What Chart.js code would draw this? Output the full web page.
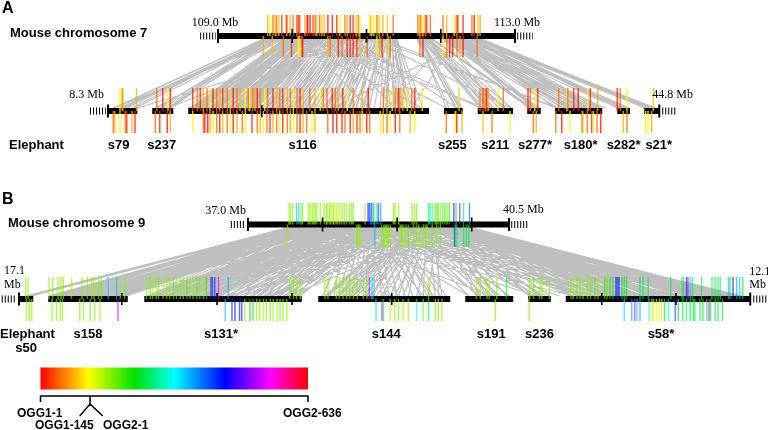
<!DOCTYPE html>
<html><head><meta charset="utf-8">
<script src="https://cdn.jsdelivr.net/npm/chart.js@4/dist/chart.umd.min.js"></script>
<style>
html,body{margin:0;padding:0;background:#fff;}
#wrap{position:relative;width:768px;height:430px;overflow:hidden;background:#fff;}
#c{position:absolute;left:0;top:0;}
.t{position:absolute;white-space:nowrap;line-height:1;color:#000;}
.b{font-family:"Liberation Sans",Arial,sans-serif;font-weight:bold;}
.s{font-family:"Liberation Serif","Times New Roman",serif;}
</style></head><body>
<div id="wrap"><canvas id="c" width="768" height="430"></canvas></div>
<script>
// ================= DATA =================
// Panel A – mouse chromosome 7 (Mb); each tick = [position, OGG index]
const chr7Range = [109.0, 113.0];
const chr7MbTicks = [110, 111, 112];
const mouse7Up = [[109.67,100],[109.70,140],[109.74,60],[109.77,100],[109.79,60],[109.82,110],[109.86,30],[109.92,20],[109.93,60],[109.97,100],[110.01,60],[110.06,55],[110.08,10],[110.10,30],[110.17,95],[110.20,10],[110.21,15],[110.24,5],[110.28,35],[110.31,60],[110.33,110],[110.37,55],[110.40,115],[110.43,105],[110.48,10],[110.54,12],[110.60,25],[110.64,135],[110.71,60],[110.74,95],[110.78,8],[110.82,15],[110.86,110],[110.89,60],[110.91,140],[111.05,100],[111.07,142],[111.10,135],[111.14,60],[111.17,110],[111.22,95],[111.28,110],[111.36,60],[111.69,65],[111.71,95],[111.73,60],[111.76,138],[111.79,60],[111.81,12],[111.86,55],[112.03,60],[112.08,95],[112.18,138],[112.21,60],[112.23,12],[112.30,20],[112.42,60],[112.45,10],[112.50,110],[112.53,90]];
const mouse7Down = [[109.61,95],[109.73,100],[109.88,60],[109.99,20],[110.08,140],[110.10,130],[110.13,60],[110.14,12],[110.48,95],[110.51,60],[110.62,10],[110.67,60],[110.74,15],[110.78,20],[110.82,8],[110.87,12],[110.91,100],[111.01,60],[111.14,140],[111.18,95],[111.21,10],[111.29,120],[111.32,60],[111.72,60],[111.76,10],[112.03,138],[112.08,60],[112.12,15],[112.16,10],[112.22,60],[112.26,95],[112.30,10],[112.49,60]];

// Panel A – elephant scaffolds (Mb along the concatenated scaffolds)
const eleARangeLabels = ['8.3 Mb', '44.8 Mb'];
const scafNamesA = ['s79','s237','s116','s255','s211','s277*','s180*','s282*','s21*'];
const scafStartA = [0.00, 0.59, 1.07, 4.48, 4.93, 5.59, 5.96, 6.79, 7.15];
const scafEndA   = [0.39, 0.87, 4.28, 4.73, 5.40, 5.77, 6.59, 6.96, 7.35];
const eleAMbTicks = [2.05];
const eleAUp = [[0.16,140],[0.19,60],[0.20,100],[0.38,95],[0.65,60],[0.73,10],[0.80,140],[0.83,15],
[1.13,20],[1.19,60],[1.23,10],[1.27,100],[1.32,60],[1.36,140],[1.40,15],[1.45,60],[1.49,95],[1.53,30],[1.59,60],[1.63,120],[1.67,12],[1.72,60],[1.76,100],[1.83,140],[1.87,60],[1.89,135],[1.93,60],[1.96,95],[1.99,10],[2.03,60],[2.09,140],[2.13,60],[2.20,15],[2.25,100],[2.29,60],[2.33,12],[2.39,95],[2.43,60],[2.47,140],[2.52,60],[2.56,10],[2.60,100],[2.69,60],[2.76,95],[2.83,140],[2.87,60],[2.92,55],[2.99,10],[3.03,60],[3.07,100],[3.13,15],[3.19,140],[3.27,60],[3.39,95],[3.47,10],[3.67,60],[3.72,100],[3.79,140],[3.83,60],[3.87,12],[3.89,60],[3.93,95],[3.99,140],[4.05,60],[4.09,10],[4.19,138],
[4.68,110],[4.96,60],[5.00,30],[5.03,60],[5.05,12],[5.07,95],[5.20,140],[5.27,60],[5.60,12],[5.63,60],[5.69,140],[5.73,20],
[6.01,60],[6.12,140],[6.13,60],[6.21,15],[6.27,12],[6.40,140],[6.43,20],[6.53,95],[6.79,12],[6.83,60],[6.92,140],[7.27,110]];
const eleADown = [[0.07,60],[0.09,100],[0.16,140],[0.23,60],[0.25,20],[0.32,95],[0.36,15],[0.63,60],[0.69,20],[0.79,12],[0.83,100],
[1.13,140],[1.27,60],[1.29,10],[1.33,5],[1.36,95],[1.40,140],[1.45,60],[1.49,15],[1.53,100],[1.59,60],[1.63,140],[1.67,10],[1.72,95],[1.79,60],[1.83,140],[1.92,20],[1.99,60],[2.03,100],[2.07,140],[2.12,60],[2.16,15],[2.20,95],[2.25,60],[2.29,140],[2.33,12],[2.39,60],[2.43,100],[2.47,140],[2.52,60],[2.56,10],[2.60,95],[2.65,60],[2.72,140],[2.76,100],[2.93,60],[3.00,12],[3.05,20],[3.12,15],[3.16,60],[3.23,10],[3.27,95],[3.32,20],[3.36,60],[3.39,140],[3.45,10],[3.49,60],[3.63,140],[3.67,100],[3.72,60],[3.76,140],[3.83,12],[3.89,60],[4.03,95],[4.09,140],
[4.51,60],[4.63,140],[4.65,12],[4.72,100],[5.00,110],[5.12,60],[5.36,140],[5.67,60],[5.71,100],
[5.97,60],[6.05,12],[6.16,140],[6.32,60],[6.33,95],[6.39,60],[6.45,20],[6.47,140],[6.52,60],[6.57,12],[6.87,100],[6.92,60],[7.17,140],[7.20,138],[7.25,95]];
// orthologue links: [mouse Mb, elephant Mb]
const linksA = [[109.61,0.07],[109.67,0.16],[109.70,0.19],[109.73,0.23],[109.74,0.36],[109.77,0.65],[109.79,0.73],[109.82,0.80],[109.86,0.09],[109.88,0.63],
[109.62,0.09],[109.64,0.25],[109.66,0.32],[109.69,0.69],[109.71,0.79],[109.75,0.83],
[109.92,1.13],[109.93,1.19],[109.97,1.27],[109.99,1.23],[110.01,1.32],[110.06,1.36],[110.08,1.45],[110.10,1.40],[110.13,1.53],[110.14,1.49],[110.17,1.59],[110.20,1.63],[110.21,1.72],[110.24,1.67],[110.28,1.76],[110.31,1.83],[110.33,1.89],[110.37,1.93],[110.40,1.99],[110.43,2.03],[110.48,2.09],[110.51,2.13],[110.54,2.20],[110.60,2.25],[110.62,2.33],[110.64,2.29],[110.67,2.39],[110.71,2.43],[110.74,2.52],[110.78,2.47],[110.82,2.56],[110.86,2.60],[110.87,2.69],[110.89,2.76],[110.91,2.83],[111.01,2.92],[111.05,2.87],[111.07,2.99],[111.10,3.03],[111.14,3.13],[111.17,3.07],[111.18,3.19],[111.21,3.27],[111.22,3.39],[111.28,3.47],[111.29,3.67],[111.32,3.72],[111.36,3.79],
[109.92,1.29],[109.95,1.33],[110.00,1.36],[110.03,1.40],[110.05,1.45],[110.09,1.49],[110.11,1.53],[110.15,1.63],[110.18,1.67],[110.22,1.79],[110.26,1.83],[110.30,1.87],[110.35,1.92],[110.38,1.96],[110.42,2.07],[110.45,2.12],[110.50,2.16],[110.56,2.29],[110.58,2.39],[110.66,2.47],[110.69,2.56],[110.72,2.65],[110.76,2.72],[110.80,2.76],[110.84,2.93],[110.88,3.00],[110.93,3.05],[110.96,3.12],[110.99,3.16],[111.03,3.23],[111.08,3.32],[111.12,3.36],[111.16,3.45],[111.20,3.49],[111.24,3.63],[111.26,3.76],[111.30,3.83],[111.34,3.87],[111.38,3.93],[111.40,4.03],
[109.89,1.10],[109.91,1.16],[109.94,1.21],[109.96,1.25],[110.02,1.38],[110.04,1.43],[110.07,1.47],[110.12,1.56],[110.16,1.61],[110.19,1.70],[110.23,1.74],[110.27,1.80],[110.29,1.85],[110.32,1.91],[110.36,1.98],[110.39,2.05],[110.41,2.11],[110.44,2.18],[110.47,2.23],[110.52,2.27],[110.55,2.35],[110.59,2.41],[110.63,2.45],[110.68,2.50],[110.73,2.58],[110.77,2.63],[110.81,2.70],[110.85,2.80],[110.90,2.90],[110.95,2.96],[111.00,3.01],[111.04,3.09],[111.09,3.15],[111.13,3.21],[111.19,3.30],[111.23,3.41],[111.27,3.55],[111.31,3.70],[111.35,3.81],[111.37,3.90],[111.39,4.00],[111.40,4.12],[111.41,4.20],
[110.48,3.83],[110.91,3.89],[111.14,3.93],[111.36,3.99],[111.28,4.09],[109.97,4.19],[110.74,1.07],[111.01,0.39],[110.30,4.51],[110.60,4.96],[111.05,5.36],[111.20,5.97],[110.10,3.49],[112.20,4.05],[109.95,2.20],[110.70,0.80],
[111.69,4.51],[111.71,4.63],[111.72,4.68],[111.73,4.72],[111.76,4.96],[111.79,5.00],[111.81,5.05],[111.86,5.12],[112.03,5.20],[112.08,5.36],[112.12,5.60],[112.16,5.67],[112.18,5.73],[112.21,5.97],[112.22,6.05],[112.23,6.13],[112.26,6.21],[112.30,6.32],[112.42,6.40],[112.45,6.52],[112.49,6.79],[112.50,6.87],[112.53,7.17],[112.53,7.27],
[111.70,4.65],[111.74,5.00],[111.78,5.07],[111.83,5.27],[111.88,5.63],[112.05,5.69],[112.10,5.71],[112.14,6.12],[112.19,6.16],[112.25,6.27],[112.28,6.33],[112.33,6.39],[112.40,6.43],[112.44,6.47],[112.47,6.57],[112.51,6.83],[112.52,6.92],[112.54,7.20],[112.55,7.25],
[111.68,4.55],[111.70,4.70],[111.72,4.98],[111.74,5.10],[111.77,5.15],[111.80,5.22],[111.82,5.30],[111.84,5.38],[111.87,5.62],[111.89,5.66],[112.02,5.75],[112.04,6.00],[112.07,6.08],[112.09,6.19],[112.11,6.24],[112.13,6.30],[112.15,6.36],[112.17,6.42],[112.20,6.50],[112.24,6.55],[112.27,6.62],[112.31,6.80],[112.35,6.90],[112.41,6.95],[112.46,7.16],[112.48,7.22],[112.52,7.30],
[110.20,5.03],[110.82,4.65],[111.10,6.01],[112.08,3.72],[112.45,2.99]];

// Panel B – mouse chromosome 9 (Mb)
const chr9Range = [37.0, 40.5];
const chr9MbTicks = [38, 39, 40];
const mouse9Up = [[37.55,190],[37.57,200],[37.60,195],[37.65,430],[37.68,410],[37.71,200],[37.73,205],[37.81,195],[37.83,200],[37.86,210],[37.88,190],[37.90,200],[37.92,215],[37.97,200],[38.02,210],[38.05,195],[38.06,200],[38.09,205],[38.11,190],[38.14,200],[38.15,180],[38.18,175],[38.20,175],[38.23,180],[38.26,200],[38.29,210],[38.32,195],[38.36,220],[38.39,200],[38.41,205],[38.57,200],[38.61,540],[38.63,560],[38.65,450],[38.66,470],[38.68,430],[38.70,200],[38.73,420],[38.75,500],[38.78,440],[38.95,200],[38.97,210],[39.02,190],[39.20,210],[39.23,200],[39.26,220],[39.42,330],[39.44,340],[39.47,360],[39.51,230],[39.53,210],[39.55,240],[39.58,200],[39.61,230],[39.64,250],[39.67,210],[39.70,260],[39.76,560],[39.79,300],[39.84,620],[39.89,300],[39.97,480]];
const mouse9Down = [[37.53,200],[38.46,210],[38.48,195],[38.50,200],[38.70,430],[38.79,200],[38.82,210],[38.84,190],[38.86,200],[38.88,205],[38.91,195],[39.04,200],[39.06,210],[39.08,190],[39.12,200],[39.15,215],[39.22,200],[39.26,210],[39.29,195],[39.35,200],[39.38,210],[39.40,190],[39.47,205],[39.53,200],[39.58,210],[39.77,540],[39.78,300],[39.80,310],[39.89,320],[39.93,300],[39.96,310]];

// Panel B – elephant scaffolds
const eleBRangeLabels = ['17.1', '12.1'];
const scafNamesB = ['s50','s158','s131*','s144','s191','s236','s58*'];
const scafStartB = [0.00, 0.39, 1.67, 3.99, 5.95, 6.79, 7.29];
const scafEndB   = [0.19, 1.45, 3.77, 5.75, 6.59, 7.09, 9.75];
const eleBMbTicks = [1.37, 2.64, 3.64, 4.97, 7.77, 8.76];
const eleBUp = [[0.09,200],[0.12,195],
[0.40,200],[0.45,210],[0.52,195],[0.56,200],[0.59,205],[0.70,190],[0.84,200],[0.91,210],[0.97,200],[1.00,195],[1.06,205],[1.10,200],[1.19,420],[1.30,430],[1.35,200],[1.41,210],
[1.70,200],[1.75,210],[1.78,195],[1.83,200],[1.86,205],[1.92,190],[1.97,200],[2.01,210],[2.06,230],[2.10,200],[2.15,215],[2.19,200],[2.24,240],[2.28,210],[2.32,200],[2.37,230],[2.41,220],[2.46,200],[2.50,250],[2.56,520],[2.58,530],[2.61,510],[2.66,650],[2.79,440],[3.61,200],[3.66,210],[3.70,195],[3.75,200],
[4.08,200],[4.12,210],[4.23,195],[4.27,200],[4.32,210],[4.37,200],[4.41,205],[4.46,190],[4.51,200],[4.59,210],[4.64,200],[4.67,650],[4.70,400],[4.72,410],[5.46,200],
[6.10,200],[6.15,210],[6.24,195],[6.27,200],[6.37,205],[6.50,300],
[6.81,200],[6.86,210],[6.94,195],[6.97,200],[7.07,205],
[7.36,200],[7.39,195],[7.44,210],[7.48,200],[7.52,190],[7.58,200],[7.62,210],[7.68,230],[7.72,200],[7.81,250],[7.84,230],[7.88,260],[7.92,280],[7.96,540],[7.98,520],[8.00,550],[8.04,290],[8.07,300],[8.10,270],[8.28,300],[8.32,320],[8.39,310],[8.69,300],[8.84,320],[8.86,300],[8.90,530],[8.92,650],[8.95,420],[8.98,300],[9.10,310],[9.24,320],[9.28,300],[9.32,310],[9.35,330],[9.46,430],[9.48,300],[9.52,540],[9.57,440],[9.61,430],[9.65,300]];
const eleBDown = [[0.10,200],[0.14,210],[0.17,195],
[0.44,200],[0.50,210],[0.55,195],[0.58,200],[0.81,205],[0.86,200],[0.95,210],[1.01,200],[1.08,195],[1.32,650],
[2.75,420],[2.84,520],[2.88,540],[2.94,530],[2.97,550],[3.01,200],[3.08,280],[3.12,260],[3.17,200],[3.21,210],[3.26,195],[3.30,200],[3.35,210],[3.39,200],[3.44,195],[3.48,205],[3.52,200],[3.57,210],
[4.76,410],[4.84,640],[4.86,300],[4.95,180],[5.01,200],[5.06,210],[5.12,195],[5.19,200],[5.30,370],[5.39,200],[5.46,300],[5.55,200],[5.59,210],[5.64,200],
[6.35,200],[6.80,200],
[8.07,410],[8.17,440],[8.21,650],[8.24,420],[8.28,440],[8.40,380],[8.44,160],[8.46,170],[8.50,165],[8.54,160],[8.57,170],[8.61,300],[8.66,370],[8.75,500],[8.79,290],[8.85,300],[8.90,310],[8.95,290],[8.99,300],[9.01,320],[9.08,300],[9.12,290],[9.17,310],[9.20,650],[9.22,300],[9.28,310],[9.32,300],[9.38,290]];
const linksB = [[37.53,0.09],[37.55,0.12],[37.57,0.40],[37.60,0.45],[37.65,0.52],[37.68,0.56],[37.71,0.59],[37.73,0.70],[37.81,0.84],[37.83,0.91],[37.86,0.97],[37.88,1.00],[37.90,1.06],[37.92,1.10],[37.97,1.19],[38.02,1.30],[38.05,1.35],[38.06,1.41],
[37.54,0.44],[37.58,0.50],[37.62,0.55],[37.66,0.58],[37.75,0.81],[37.78,0.86],[37.85,0.95],[37.89,1.01],[37.94,1.08],[37.99,1.32],[37.56,0.10],[37.59,0.14],[37.61,0.17],
[37.55,0.48],[37.58,0.62],[37.63,0.66],[37.67,0.74],[37.72,0.78],[37.76,0.89],[37.79,0.93],[37.82,1.04],[37.87,1.13],[37.91,1.16],[37.95,1.23],[37.98,1.27],[38.00,1.38],[38.03,1.43],
[38.09,1.70],[38.11,1.75],[38.14,1.78],[38.15,1.83],[38.18,1.86],[38.20,1.92],[38.23,1.97],[38.26,2.01],[38.29,2.06],[38.32,2.10],[38.36,2.15],[38.39,2.19],[38.41,2.24],[38.46,2.28],[38.48,2.32],[38.50,2.37],[38.57,2.41],[38.61,2.46],[38.63,2.50],[38.65,2.56],[38.66,2.58],[38.68,2.61],[38.70,2.66],[38.73,2.75],[38.75,2.84],[38.78,2.88],[38.79,2.94],[38.82,3.01],[38.84,3.08],[38.86,3.17],[38.88,3.26],[38.91,3.35],[38.95,3.44],[38.97,3.52],[39.02,3.61],[39.04,3.70],
[38.10,2.15],[38.13,2.28],[38.17,2.41],[38.22,2.50],[38.25,2.56],[38.28,2.58],[38.31,2.61],[38.34,2.66],[38.38,2.79],[38.43,3.12],[38.47,3.17],[38.52,3.21],[38.55,3.30],[38.59,3.39],[38.62,3.44],[38.67,3.48],[38.72,3.57],[38.76,3.66],[38.80,3.75],[38.04,1.97],[38.08,2.01],[38.12,2.06],
[37.62,1.72],[37.66,1.80],[37.70,1.88],[37.74,1.95],[37.77,2.03],[37.80,2.12],[37.84,2.20],[37.87,2.26],[37.91,2.34],[37.93,2.44],[37.96,2.53],[37.98,2.63],[38.01,2.70],[38.03,2.80],[38.07,2.90],[38.16,3.00],[38.19,3.10],[38.21,3.20],[38.24,3.28],[38.27,3.37],[38.30,3.46],[38.33,3.55],[38.35,3.63],[38.37,3.72],
[39.06,4.08],[39.08,4.12],[39.12,4.23],[39.15,4.27],[39.20,4.32],[39.22,4.37],[39.23,4.41],[39.26,4.46],[39.29,4.51],[39.35,4.59],[39.38,4.67],[39.40,4.76],[39.42,4.86],[39.44,5.01],[39.47,5.12],[39.51,5.30],[39.53,5.46],[39.55,5.59],
[39.00,4.12],[39.05,4.37],[39.10,4.64],[39.14,4.70],[39.18,4.72],[39.24,4.84],[39.28,4.95],[39.32,5.06],[39.36,5.19],[39.39,5.39],[39.43,5.55],[39.46,5.64],[38.98,4.46],[38.93,4.27],
[38.40,4.05],[38.44,4.15],[38.49,4.25],[38.53,4.35],[38.56,4.44],[38.60,4.53],[38.64,4.62],[38.69,4.74],[38.74,4.83],[38.77,4.93],[38.81,5.04],[38.83,5.15],[38.87,5.25],[38.89,5.35],[38.92,5.45],[38.94,5.52],[38.96,5.62],[38.99,5.70],
[39.58,6.10],[39.61,6.24],[39.64,6.37],[39.67,6.50],[39.70,6.81],[39.76,6.94],[39.77,7.07],[39.57,6.15],[39.60,6.27],[39.63,6.35],[39.66,6.86],[39.69,6.97],[39.72,6.80],
[39.03,6.00],[39.09,6.12],[39.13,6.22],[39.17,6.32],[39.21,6.42],[39.25,6.54],[39.30,6.84],[39.33,6.92],[39.37,7.02],
[39.78,7.36],[39.79,7.44],[39.80,7.52],[39.84,7.62],[39.89,7.72],[39.93,7.84],[39.96,7.96],[39.97,8.07],[39.99,8.28],
[39.75,7.39],[39.74,7.48],[39.73,7.58],[39.81,7.68],[39.82,7.81],[39.83,7.88],[39.85,7.92],[39.86,7.98],[39.87,8.00],[39.88,8.04],[39.90,8.10],[39.91,8.17],[39.92,8.21],[39.94,8.24],[39.95,8.32],[39.98,8.40],[39.62,8.46],[39.65,8.54],[39.68,8.66],[39.71,8.75],[39.72,8.84],[39.45,8.92],[39.48,8.98],[39.50,9.08],[39.52,9.12],[39.56,9.17],[39.59,9.22],[39.63,9.32],[39.74,9.38],[39.78,9.57],[39.82,9.65],[39.86,9.48],[39.90,9.35],
[39.41,7.34],[39.46,7.46],[39.49,7.56],[39.54,7.66],[39.57,7.76],[39.60,7.86],[39.62,7.94],[39.65,8.05],[39.68,8.14],[39.71,8.23],[39.74,8.35],[39.77,8.48],[39.80,8.58],[39.83,8.70],[39.85,8.82],[39.88,8.94],[39.91,9.06],[39.94,9.18],[39.97,9.30],[39.98,9.42],[39.99,9.60],[38.45,7.50],[38.65,7.90],[38.85,8.30],[39.05,8.60],[39.25,9.00],[39.45,9.40],
[38.02,8.10],[38.20,7.68],[38.29,8.39],[38.41,7.88],[38.57,8.86],[38.70,9.10],[38.95,8.69],[39.02,9.28],[39.08,7.81],[39.20,9.35],[39.26,8.95],[39.35,9.48],[39.44,8.50],[39.51,9.57],[39.55,9.65],[39.61,8.61],[39.67,9.01],[39.70,9.20],[39.84,9.61],[39.89,9.24],[39.93,8.90],[39.96,8.44],[39.99,9.52],
[39.26,1.30],[39.58,2.06],[39.80,3.30],[39.89,2.79],[38.82,0.86],[38.50,1.08],[39.12,3.39],[39.47,4.08],[38.11,4.64],[38.36,5.06],[38.63,5.39],[38.86,6.15],[39.04,6.86],[37.60,7.40],[37.73,8.00],[38.15,9.30],[37.88,6.30],[38.48,7.58],[38.75,8.17],[39.15,7.48],[39.29,8.32],[39.40,8.79],[39.53,8.99],[39.64,9.46],
[38.30,4.20],[38.55,4.90],[38.85,5.50],[38.40,6.00],[38.90,1.80],[39.10,2.40],[39.40,3.00],[39.70,3.60],[37.95,3.20],[37.70,2.20],[38.00,6.90],[38.60,7.20]];

// Colour key: OGG indices (OGG1-1 .. OGG1-145, then OGG2-1 .. OGG2-636)
const oggTotal = 781;
const oggSplit = 145.5;
const oggLabels = ['OGG1-1', 'OGG1-145', 'OGG2-1', 'OGG2-636'];

// ================= STYLE / LAYOUT =================
const W = 768, H = 430;
const oggStops = [[0,[255,0,0]],[0.09,[255,128,0]],[0.18,[255,255,0]],[0.35,[0,225,0]],[0.50,[0,255,255]],[0.69,[0,0,255]],[0.86,[255,0,255]],[1,[255,0,0]]];
const ANCHOR = {
  xM7: [109, 218, 113, 515],
  xEA: [0, 108, 1, 183],
  xM9: [37, 248, 40.5, 509],
  xEB: [0, 19, 1, 94],
  xOgg:[1, 40.5, 781, 308]
};
const TRACK = {
  m7: {axis:'xM7', y:36,   up:21, down:21},
  eA: {axis:'xEA', y:111,  up:23, down:22},
  m9: {axis:'xM9', y:224.5,up:21.5, down:22.5},
  eB: {axis:'xEB', y:299,  up:22, down:22}
};
const LABEL_SHIFT_A = [-4, -1, -6, -1, 0, 1, 2, 0, 7];
const LABEL_SHIFT_B = [0, 0, -2, 2, 2, 0, 3];
const KEY_Y = 378.5, KEY_H = 22, BRACKET_Y = 396;
const LINK_COLOR = '#bfbfbf';

function rangeFor(a){ const [v0,p0,v1,p1]=a; const k=(v1-v0)/(p1-p0); return {min:v0-p0*k, max:v0+(W-p0)*k}; }
function mix(c0,c1,t){ return c0.map((v,i)=>Math.round(v+(c1[i]-v)*t)); }
function oggRGB(idx){
  const f=(idx-1)/(oggTotal-1);
  for(let i=1;i<oggStops.length;i++){
    if(f<=oggStops[i][0]){ const a=oggStops[i-1], b=oggStops[i]; return mix(a[1],b[1],(f-a[0])/(b[0]-a[0])); }
  }
  return oggStops[oggStops.length-1][1];
}
function oggColor(idx){ const c=oggRGB(idx); return `rgba(${c[0]},${c[1]},${c[2]},${idx>145?0.62:0.78})`; }

function tickDs(list, tr, up){
  const len = up ? tr.up : tr.down;
  const mid = up ? tr.y - len/2 : tr.y + len/2;
  return {type:'scatter', xAxisID:tr.axis, yAxisID:'y',
    data:list.map(t=>({x:t[0], y:mid})),
    pointStyle:'line', pointRotation:90, pointRadius:len/2, pointHoverRadius:len/2,
    pointBorderWidth:1.5, pointHoverBorderWidth:1.5,
    pointBorderColor:list.map(t=>oggColor(t[1])), pointBackgroundColor:'rgba(0,0,0,0)'};
}
function blackTicks(vals, tr, half, width){
  return {type:'scatter', xAxisID:tr.axis, yAxisID:'y',
    data:vals.map(v=>({x:v, y:tr.y})),
    pointStyle:'line', pointRotation:90, pointRadius:half, pointHoverRadius:half,
    pointBorderWidth:width, pointBorderColor:'#000', pointBackgroundColor:'#000'};
}
function segDs(axis, segs, y, width, dash){
  const data=[];
  segs.forEach(([a,b])=>{ data.push({x:a,y:y},{x:b,y:y},{x:b,y:null}); });
  return {type:'line', xAxisID:axis, yAxisID:'y', data, borderColor:'#000', borderWidth:width,
    borderDash:dash||[], borderCapStyle:'butt', pointRadius:0, pointHoverRadius:0, fill:false, spanGaps:false, tension:0};
}

const datasets = [];
datasets.push(blackTicks(chr7Range, TRACK.m7, 7, 2));
datasets.push(blackTicks(chr7MbTicks, TRACK.m7, 7, 1.6));
datasets.push(blackTicks([scafStartA[0], scafEndA[scafEndA.length-1]], TRACK.eA, 6.5, 2));
datasets.push(blackTicks(eleAMbTicks, TRACK.eA, 6, 1.6));
datasets.push(blackTicks(chr9Range, TRACK.m9, 6.5, 2));
datasets.push(blackTicks(chr9MbTicks, TRACK.m9, 7, 1.6));
datasets.push(blackTicks([scafStartB[0], scafEndB[scafEndB.length-1]], TRACK.eB, 6.5, 2));
datasets.push(blackTicks(eleBMbTicks, TRACK.eB, 6, 1.6));
datasets.push(tickDs(mouse7Up, TRACK.m7, true));
datasets.push(tickDs(mouse7Down, TRACK.m7, false));
datasets.push(tickDs(eleAUp, TRACK.eA, true));
datasets.push(tickDs(eleADown, TRACK.eA, false));
datasets.push(tickDs(mouse9Up, TRACK.m9, true));
datasets.push(tickDs(mouse9Down, TRACK.m9, false));
datasets.push(tickDs(eleBUp, TRACK.eB, true));
datasets.push(tickDs(eleBDown, TRACK.eB, false));
datasets.push(segDs('xM7', [chr7Range], TRACK.m7.y, 6));
datasets.push(segDs('xEA', scafStartA.map((s,i)=>[s, scafEndA[i]]), TRACK.eA.y, 6));
datasets.push(segDs('xM9', [chr9Range], TRACK.m9.y, 6));
datasets.push(segDs('xEB', scafStartB.map((s,i)=>[s, scafEndB[i]]), TRACK.eB.y, 6));
datasets.push(segDs('xM7', [[chr7Range[0]-0.24, chr7Range[0]-0.03],[chr7Range[1]+0.03, chr7Range[1]+0.24]], TRACK.m7.y, 7, [1,2]));
datasets.push(segDs('xEA', [[scafStartA[0]-0.24, scafStartA[0]-0.03],[scafEndA[8]+0.04, scafEndA[8]+0.22]], TRACK.eA.y, 7, [1,2]));
datasets.push(segDs('xM9', [[chr9Range[0]-0.23, chr9Range[0]-0.03],[chr9Range[1]+0.03, chr9Range[1]+0.25]], TRACK.m9.y, 7, [1,2]));
datasets.push(segDs('xEB', [[scafStartB[0]-0.23, scafStartB[0]-0.03],[scafEndB[6]+0.04, scafEndB[6]+0.23]], TRACK.eB.y, 7, [1,2]));
datasets.push({type:'line', xAxisID:'xOgg', yAxisID:'y', data:[{x:1,y:KEY_Y},{x:oggTotal,y:KEY_Y}],
  borderWidth:KEY_H, borderCapStyle:'butt', pointRadius:0, pointHoverRadius:0, fill:false,
  borderColor:(ctx)=>{ const ch=ctx.chart, sc=ch.scales.xOgg; if(!sc||!ch.chartArea) return '#f00';
    const g=ch.ctx.createLinearGradient(sc.getPixelForValue(1),0,sc.getPixelForValue(oggTotal),0);
    oggStops.forEach(s=>g.addColorStop(s[0], `rgb(${s[1][0]},${s[1][1]},${s[1][2]})`)); return g; }});
datasets.push({type:'line', xAxisID:'xOgg', yAxisID:'y',
  data:[{x:1,y:BRACKET_Y+6},{x:1,y:BRACKET_Y},{x:oggTotal,y:BRACKET_Y},{x:oggTotal,y:BRACKET_Y+6},{x:oggTotal,y:null},
        {x:oggSplit,y:BRACKET_Y},{x:oggSplit,y:BRACKET_Y+8},{x:oggSplit-30,y:BRACKET_Y+20},{x:oggSplit-30,y:null},
        {x:oggSplit,y:BRACKET_Y+8},{x:oggSplit+37,y:BRACKET_Y+20}],
  borderColor:'#000', borderWidth:1.5, pointRadius:0, pointHoverRadius:0, fill:false, spanGaps:false, tension:0, borderCapStyle:'butt'});

const linkPlugin = {
  id:'links',
  beforeDatasetsDraw(chart){
    const c=chart.ctx, ys=chart.scales.y;
    const groups=[[TRACK.m7, TRACK.eA, linksA, 1.1],[TRACK.m9, TRACK.eB, linksB, 1.25]];
    c.save(); c.strokeStyle=LINK_COLOR;
    groups.forEach(([top,bot,links,lw])=>{
      const sa=chart.scales[top.axis], sb=chart.scales[bot.axis];
      const y0=ys.getPixelForValue(top.y+3), y1=ys.getPixelForValue(bot.y-3);
      c.lineWidth=lw;
      c.beginPath();
      links.forEach(([m,e])=>{ c.moveTo(sa.getPixelForValue(m), y0); c.lineTo(sb.getPixelForValue(e), y1); });
      c.stroke();
    });
    c.restore();
  }
};

const scales = {y:{type:'linear', display:false, min:0, max:H, reverse:true}};
Object.keys(ANCHOR).forEach(id=>{ scales[id]=Object.assign({type:'linear', display:false}, rangeFor(ANCHOR[id])); });

const chart = new Chart(document.getElementById('c'), {
  type:'scatter',
  data:{datasets},
  options:{responsive:false, animation:false, events:[], layout:{padding:0, autoPadding:false},
    plugins:{legend:{display:false}, tooltip:{enabled:false}, title:{display:false}},
    scales},
  plugins:[linkPlugin]
});

// ================= TEXT (real HTML text) =================
const wrap=document.getElementById('wrap');
function txt(s, x, base, cls, size, align){
  const d=document.createElement('div'); d.className='t '+cls; d.style.fontSize=size+'px'; d.textContent=s;
  d.style.top=(base-(cls==='s'?0.8375:0.8465)*size)+'px';
  if(align==='center'){ d.style.left=x+'px'; d.style.transform='translateX(-50%)'; }
  else if(align==='right'){ d.style.right=(W-x)+'px'; }
  else d.style.left=x+'px';
  wrap.appendChild(d);
}
const px=(id,v)=>chart.scales[id].getPixelForValue(v);
txt('A', 2, 13.5, 'b', 16);
txt('Mouse chromosome 7', 10, 37, 'b', 13);
txt(chr7Range[0].toFixed(1)+' Mb', px('xM7',chr7Range[0])-3, 26, 's', 12, 'center');
txt(chr7Range[1].toFixed(1)+' Mb', px('xM7',chr7Range[1])+2, 26, 's', 12, 'center');
txt(eleARangeLabels[0], px('xEA',scafStartA[0])-4, 98, 's', 12, 'right');
txt(eleARangeLabels[1], px('xEA',scafEndA[8])-7, 98, 's', 12, 'left');
txt('Elephant', 9, 149, 'b', 13);
scafNamesA.forEach((n,i)=>txt(n, px('xEA',(scafStartA[i]+scafEndA[i])/2)+LABEL_SHIFT_A[i], 149, 'b', 13, 'center'));
txt('B', 2, 205, 'b', 16);
txt('Mouse chromosome 9', 8, 227, 'b', 13);
txt(chr9Range[0].toFixed(1)+' Mb', px('xM9',chr9Range[0])-2, 214, 's', 12, 'right');
txt(chr9Range[1].toFixed(1)+' Mb', px('xM9',chr9Range[1])-6, 213, 's', 12, 'left');
txt(eleBRangeLabels[0], 4, 274, 's', 12);
txt('Mb', 4, 288, 's', 12);
txt(eleBRangeLabels[1], px('xEB',scafEndB[6])-1, 275, 's', 12);
txt('Mb', px('xEB',scafEndB[6])-1, 288, 's', 12);
txt('Elephant', 0, 338, 'b', 13);
scafNamesB.forEach((n,i)=>txt(n, px('xEB',(scafStartB[i]+scafEndB[i])/2)+LABEL_SHIFT_B[i], i===0?352:338, 'b', 13, 'center'));
txt(oggLabels[0], 17, 417, 'b', 12);
txt(oggLabels[1], 35, 429, 'b', 12);
txt(oggLabels[2], 103, 429, 'b', 12);
txt(oggLabels[3], 283, 417, 'b', 12);
</script>
</body></html>
